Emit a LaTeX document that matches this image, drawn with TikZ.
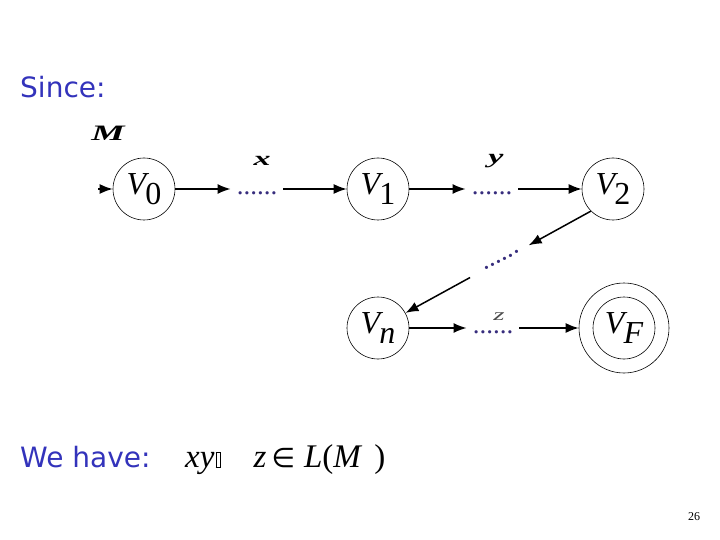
\documentclass[tikz,border=0pt]{standalone}
\usepackage{fontspec}
\usetikzlibrary{arrows.meta,positioning}

\newfontfamily\slidefont{DejaVu Sans}
\newfontfamily\tms{Liberation Serif}
\definecolor{slideblue}{RGB}{51,51,187}
\definecolor{dotblue}{RGB}{55,45,125}
\newcommand{\statename}[2]{{\tms\itshape #1}\kern-1pt\raisebox{-0.3em}{\tms #2}}
\newcommand{\wide}[1]{\scalebox{1.7}[1]{#1}}
\newcommand{\missingglyph}{{\setlength{\fboxsep}{0pt}\setlength{\fboxrule}{0.6pt}\fbox{\rule{0pt}{14pt}\hspace{4pt}}}}

\begin{document}
\begin{tikzpicture}[
    x=1pt,y=-1pt,
    state/.style={circle,draw,line width=0.6pt,minimum size=62pt,inner sep=0pt,font=\fontsize{32}{36}\selectfont},
    dots/.style={text=dotblue,inner xsep=6pt,inner ysep=0pt,font=\tms\fontsize{27}{26}\selectfont},
    arrow/.style={line width=1.5pt,-{Latex[length=13pt,width=10pt]}},
    edgelabel/.style={inner sep=0pt,font=\tms\bfseries\itshape\fontsize{20}{24}\selectfont},
    slidetext/.style={text=slideblue,font=\slidefont\fontsize{28}{32}\selectfont,anchor=base west,inner sep=0pt}
]
    \useasboundingbox (0,0) rectangle (720,540);

    \node[slidetext] (since) at (20,98) {Since:};

    \node[state] (v0) at (144,189) {\statename{V}{0}};
    \node[state] (v1) at (378,189) {\statename{V}{1}};
    \node[state] (v2) at (613,189) {\statename{V}{2}};
    \node[state] (vn) at (378,328) {\statename{V}{\itshape n}};
    \node[state,minimum size=90pt] (vf) at (624,328) {};
    \node[state] (vfinner) at (vf.center) {\statename{V}{\itshape F}};

    \node[edgelabel,font=\tms\bfseries\itshape\fontsize{22}{24}\selectfont] (machine) at (108,133) {\wide{M}};
    \coordinate (start) at (98,189);

    \node[dots] (dx) at (257,189) {\strut......};
    \node[dots] (dy) at (492,189) {\strut......};
    \node[dots,rotate=27,inner xsep=10pt] (dd) at (502,260) {......};
    \node[dots] (dz) at (493,328) {\strut......};

    \node[edgelabel] (lx) at (262,161) {\wide{x}};
    \node[edgelabel] (ly) at (496,161) {\wide{y}};
    \node[edgelabel,font=\tms\itshape\fontsize{17}{20}\selectfont,text=black!70] (lz) at (499,317) {\wide{z}};

    \draw[arrow] (start) -- (v0);
    \draw[arrow] (v0) -- (dx);
    \draw[arrow] (dx) -- (v1);
    \draw[arrow] (v1) -- (dy);
    \draw[arrow] (dy) -- (v2);
    \draw[arrow] (v2.-135) -- (dd);
    \draw[arrow,shorten <=6pt] (dd) -- (vn);
    \draw[arrow] (vn) -- (dz);
    \draw[arrow] (dz) -- (vf);

    \node[slidetext] (wehave) at (20,467) {We have:};
    \node[anchor=base west,inner sep=0pt,font=\tms\fontsize{33}{36}\selectfont] (result) at (185,467)
        {\textit{xy}\hspace{1pt}\missingglyph\hspace{33pt}\textit{z}\hspace{5pt}{\slidefont\fontsize{27}{30}\selectfont ∈}\hspace{9pt}\textit{L}(\textit{M}\hspace{12pt})};

    \node[font=\tms\fontsize{12}{14}\selectfont] (page) at (694,517) {26};
\end{tikzpicture}
\end{document}
